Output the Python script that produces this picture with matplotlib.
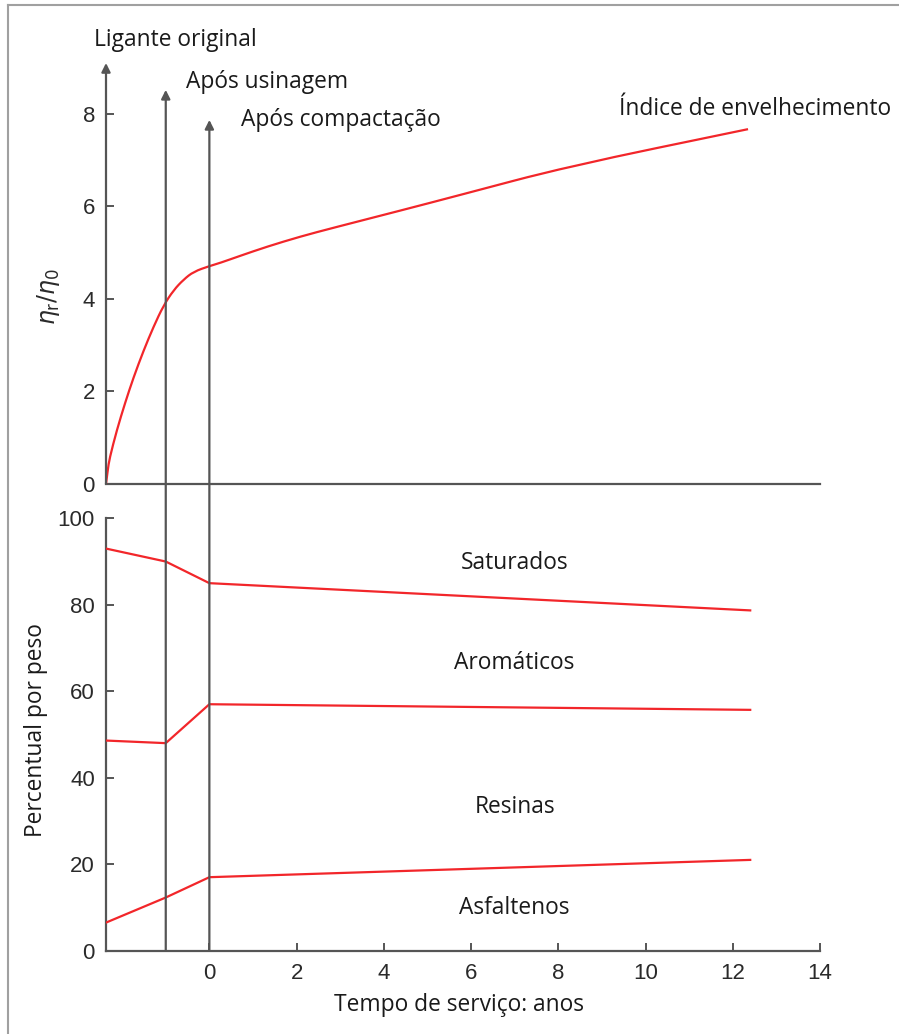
import matplotlib
matplotlib.use("Agg")
import matplotlib.pyplot as plt
from matplotlib.lines import Line2D
from matplotlib.path import Path
from matplotlib.patches import PathPatch

# --- data -------------------------------------------------------------
# aging index curve (viscosity ratio) vs service time
aging_x = [-2.37, -2.33, -2.29, -2.12, -1.93, -1.74, -1.51, -1.28, -1.05, -0.82,
           -0.59, -0.36, 0.0, 0.25, 0.7, 1.32, 2.09, 2.85, 4.38, 5.76, 8.2, 12.35]
aging_y = [0.0, 0.3, 0.55, 1.17, 1.76, 2.30, 2.88, 3.40, 3.86, 4.19,
           4.42, 4.59, 4.71, 4.78, 4.93, 5.13, 5.35, 5.54, 5.91, 6.25, 6.86, 7.67]

# fraction boundaries (weight %) at original, after mixing, after compaction, end
frac_x = [-2.37, -1.0, 0.0, 12.4]
saturados_lim = [93.0, 90.0, 85.0, 78.7]
aromaticos_lim = [48.6, 48.0, 57.0, 55.7]
asfaltenos_lim = [6.5, 12.3, 17.0, 21.0]

# reference events (x position, arrow tip height on the index axis, label)
events_x = [-2.37, -1.0, 0.0]
events_tip = [9.1, 8.52, 7.87]
events_lbl = ["Ligante original", "Após usinagem", "Após compactação"]

fraction_names = ["Saturados", "Aromáticos", "Resinas", "Asfaltenos"]
fraction_lbl_y = [89.7, 66.6, 33.3, 9.9]

x_ticks = [0, 2, 4, 6, 8, 10, 12, 14]
top_yticks = [0, 2, 4, 6, 8]
bot_yticks = [0, 20, 40, 60, 80, 100]

# --- style ------------------------------------------------------------
W, H = 899, 1034
AX_COL = "#555555"
RED = "#f2262a"
LBL_FONT = ["Open Sans", "DejaVu Sans"]
TICK_FONT = ["Liberation Sans", "DejaVu Sans"]
LBL_SIZE = 16.4
TICK_SIZE = 16

fig = plt.figure(figsize=(W / 100, H / 100), dpi=100)

def fx(px):
    return px / W

def fy(py):
    return 1 - py / H

def smooth_path(xs, ys):
    """Quadratic-Bezier path that uses the sampled points as control points."""
    pts = list(zip(xs, ys))
    verts = [pts[0]]
    codes = [Path.MOVETO]
    for i in range(1, len(pts) - 1):
        mid = ((pts[i][0] + pts[i + 1][0]) / 2, (pts[i][1] + pts[i + 1][1]) / 2)
        verts += [pts[i], mid]
        codes += [Path.CURVE3, Path.CURVE3]
    verts.append(pts[-1])
    codes.append(Path.LINETO)
    return Path(verts, codes)

XMIN, XMAX = -2.37, 14.0
ax_top = fig.add_axes([fx(106), fy(484), fx(820) - fx(106), fy(63) - fy(484)])
ax_bot = fig.add_axes([fx(106), fy(950.7), fx(820) - fx(106), fy(518.3) - fy(950.7)])

for ax in (ax_top, ax_bot):
    ax.set_xlim(XMIN, XMAX)
    ax.patch.set_visible(False)
    for s in ("top", "right"):
        ax.spines[s].set_visible(False)
    for s in ("left", "bottom"):
        ax.spines[s].set_color(AX_COL)
        ax.spines[s].set_linewidth(1.6)
    ax.tick_params(direction="in", length=5.5, width=1.4, color=AX_COL,
                   labelsize=TICK_SIZE, labelcolor="#2a2a2a")

# top panel: aging index
ax_top.set_ylim(0, 9.1)
ax_top.spines["left"].set_visible(False)
ax_top.set_yticks(top_yticks)
ax_top.set_xticks([])
ax_top.tick_params(axis="y", pad=8)
ax_top.add_patch(PathPatch(smooth_path(aging_x, aging_y), facecolor="none",
                           edgecolor=RED, lw=1.6, zorder=3))
ax_top.text(9.39, 7.98, "Índice de envelhecimento", fontsize=LBL_SIZE,
            family=LBL_FONT, color="#1a1a1a", ha="left", va="baseline")

# bottom panel: SARA fractions
ax_bot.set_ylim(0, 100)
ax_bot.set_yticks(bot_yticks)
ax_bot.set_xticks(x_ticks)
ax_bot.tick_params(axis="y", pad=8)
ax_bot.tick_params(axis="x", pad=9)
for series in (saturados_lim, aromaticos_lim, asfaltenos_lim):
    ax_bot.plot(frac_x, series, color=RED, lw=1.6, zorder=3)
for name, yy in zip(fraction_names, fraction_lbl_y):
    ax_bot.text(7.0, yy, name, fontsize=LBL_SIZE, family=LBL_FONT, color="#1a1a1a",
                ha="center", va="center")

for ax in (ax_top, ax_bot):
    for lab in ax.get_xticklabels() + ax.get_yticklabels():
        lab.set_family(TICK_FONT)

# event arrows: original binder uses the top-panel axis, the others span both panels
arrow_kw = dict(arrowstyle="-|>", color=AX_COL, lw=1.6, shrinkA=0, shrinkB=0,
                mutation_scale=13)
ax_top.annotate("", xy=(events_x[0], events_tip[0]), xytext=(events_x[0], 0),
                xycoords="data", textcoords="data", arrowprops=arrow_kw,
                annotation_clip=False)
for xv, tip in zip(events_x[1:], events_tip[1:]):
    ax_bot.annotate("", xy=(xv, tip), xycoords=ax_top.transData,
                    xytext=(xv, 0), textcoords=ax_bot.transData,
                    arrowprops=arrow_kw, annotation_clip=False)

# event labels
lbl_pos = [(-2.64, 9.47), (-0.53, 8.56), (0.73, 7.73)]
for (lx, ly), txt in zip(lbl_pos, events_lbl):
    ax_top.text(lx, ly, txt, fontsize=LBL_SIZE, family=LBL_FONT, color="#1a1a1a",
                ha="left", va="baseline", clip_on=False)

# axis titles
fig.text(fx(459), fy(1005), "Tempo de serviço: anos", fontsize=LBL_SIZE,
         family=LBL_FONT, color="#1a1a1a", ha="center", va="center")
fig.text(fx(36), fy(730), "Percentual por peso", fontsize=LBL_SIZE,
         family=LBL_FONT, color="#1a1a1a", ha="center", va="center", rotation=90)
fig.text(fx(48), fy(297), r"$\eta_\mathrm{r}/\eta_0$", fontsize=17,
         color="#2a2a2a", ha="center", va="center", rotation=90)

# thin frame around the drawing
fig.add_artist(Line2D([fx(8), 1.0], [fy(5), fy(5)], color="#a0a0a0", lw=1.5,
                      transform=fig.transFigure))
fig.add_artist(Line2D([fx(8), fx(8)], [fy(5), 0.0], color="#a0a0a0", lw=1.5,
                      transform=fig.transFigure))

fig.savefig("out.png", dpi=100, facecolor="white")
